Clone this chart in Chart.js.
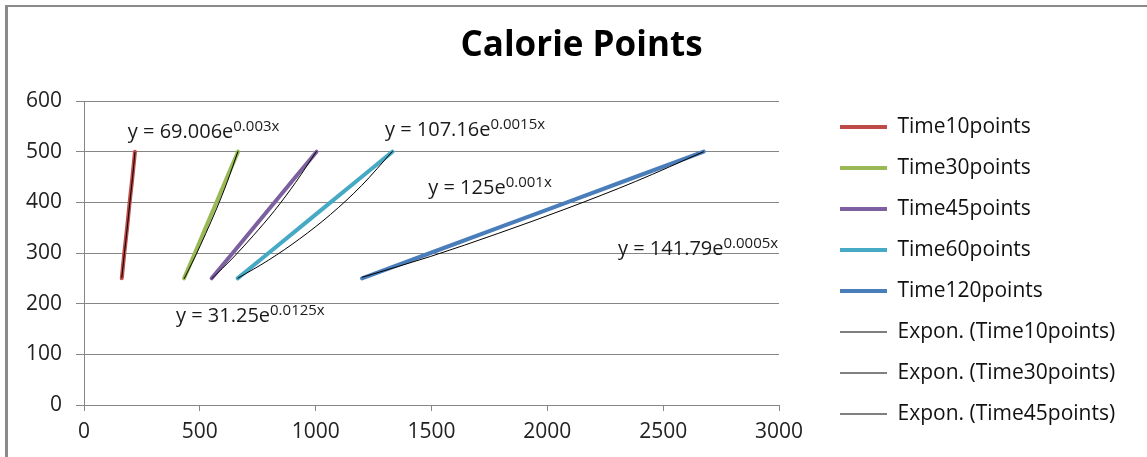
<!DOCTYPE html>
<html>
<head>
<meta charset="utf-8">
<title>Calorie Points</title>
<script src="https://cdn.jsdelivr.net/npm/chart.js@4.4.1/dist/chart.umd.min.js"></script>
<style>
  html, body { margin: 0; padding: 0; background: #fff; }
  #wrap { width: 1147px; height: 457px; }
</style>
</head>
<body>
<div id="wrap"><canvas id="chart" width="1147" height="457"></canvas></div>
<script>
// calories (y) - same steps for every series
const calories = [250, 300, 350, 400, 450, 500];

// points (x)
const time10 = [163, 174, 186, 197, 209, 220];
const time30 = [432, 479, 525, 572, 618, 665];
const time45 = [551, 642, 732, 823, 913, 1004];
const time60 = [663, 797, 931, 1064, 1198, 1332];
const time120 = [1200, 1495, 1790, 2085, 2380, 2675];

// exponential trend lines, y read at the same x as the series
const trend10 = [251, 298, 347, 396, 447, 499];
const trend30 = [249, 292, 338, 387, 440, 501];
const trend45 = [249, 290, 335, 384, 439, 501];
const trend60 = [250, 286, 328, 376, 433, 501];
const trend120 = [252, 293, 339, 388, 441, 500];

const seriesNames = ["Time10points", "Time30points", "Time45points", "Time60points", "Time120points"];
const seriesColors = ["#BE4B48", "#98B954", "#7D60A0", "#46AAC5", "#4A7EBB"];

const xTicks = [0, 500, 1000, 1500, 2000, 2500, 3000];
const yTicks = [0, 100, 200, 300, 400, 500, 600];

// trend line equations (main text + exponent) and where they sit, in data units
const eqMain = ["y = 69.006e", "y = 107.16e", "y = 125e", "y = 141.79e", "y = 31.25e"];
const eqExp = ["0.003x", "0.0015x", "0.001x", "0.0005x", "0.0125x"];
const eqAt = [[189, 527], [1299, 531], [1486, 416], [2305, 296], [397, 164]];

const xs = [time10, time30, time45, time60, time120];
const trends = [trend10, trend30, trend45, trend60, trend120];

const datasets = [];
xs.forEach((arr, i) => {
  datasets.push({
    label: seriesNames[i],
    data: arr.map((x, k) => ({ x: x, y: calories[k] })),
    borderColor: seriesColors[i],
    backgroundColor: seriesColors[i],
    pointBorderColor: seriesColors[i],
    borderWidth: 4,
    pointBorderWidth: 4,
    pointRadius: 0,
    showLine: true,
    borderCapStyle: "round",
    borderJoinStyle: "round"
  });
});
trends.forEach((arr, i) => {
  datasets.push({
    label: "Expon. (" + seriesNames[i] + ")",
    data: xs[i].map((x, k) => ({ x: x, y: arr[k] })),
    borderColor: "#000",
    backgroundColor: "#000",
    pointBorderColor: "#000",
    borderWidth: 1,
    pointBorderWidth: 1,
    pointRadius: 0,
    showLine: true,
    cubicInterpolationMode: "monotone",
    order: -1
  });
});

// legend sizing so it starts where Excel put it
const LEGEND_FONT = 21;
const LEGEND_PAD = 20;
const LEGEND_BOX = 47;
const mctx = document.createElement("canvas").getContext("2d");
mctx.font = LEGEND_FONT + 'px "Open Sans"';
let maxText = 0;
datasets.slice(0, 8).forEach(d => { maxText = Math.max(maxText, mctx.measureText(d.label).width); });
const legendW = LEGEND_PAD + LEGEND_BOX + LEGEND_FONT / 2 + maxText + 10;
const legendLeft = 820;
const padLeft = 20;
const padRight = 4;
// whatever is left right of the legend
const outerGap = Math.max(0, 1147 - padRight - legendLeft - legendW);

const framePlugin = {
  id: "frame",
  beforeDraw(chart) {
    const ctx = chart.ctx;
    ctx.save();
    ctx.fillStyle = "#fff";
    ctx.fillRect(0, 0, chart.width, chart.height);
    ctx.fillStyle = "#8a8a8a";
    ctx.fillRect(5, 5, 3, chart.height);
    ctx.fillRect(5, 5, chart.width, 2);
    ctx.restore();
  }
};

const equationPlugin = {
  id: "equations",
  afterDatasetsDraw(chart) {
    const ctx = chart.ctx;
    const sx = chart.scales.x, sy = chart.scales.y;
    ctx.save();
    ctx.fillStyle = "#1a1a1a";
    ctx.textBaseline = "alphabetic";
    ctx.textAlign = "left";
    eqMain.forEach((t, i) => {
      const px = sx.getPixelForValue(eqAt[i][0]);
      const py = sy.getPixelForValue(eqAt[i][1]);
      ctx.font = '20px "Open Sans"';
      ctx.fillText(t, px, py);
      const w = ctx.measureText(t).width;
      ctx.font = '15px "Open Sans"';
      ctx.fillText(eqExp[i], px + w, py - 7);
    });
    ctx.restore();
  }
};

new Chart(document.getElementById("chart"), {
  type: "scatter",
  data: { datasets: datasets },
  options: {
    responsive: false,
    animation: false,
    layout: { padding: { left: padLeft, right: padRight, top: 0, bottom: 12.5 } },
    scales: {
      x: {
        type: "linear",
        min: 0,
        max: 3000,
        afterBuildTicks: s => { s.ticks = xTicks.map(v => ({ value: v })); },
        afterFit: s => { s.height = 39.5; },
        grid: { drawOnChartArea: false, drawTicks: true, tickLength: 6, color: "#868686" },
        border: { color: "#868686" },
        ticks: { padding: 8, color: "#222", font: { family: "Open Sans", size: 21 }, callback: v => String(v) }
      },
      y: {
        type: "linear",
        min: 0,
        max: 600,
        afterBuildTicks: s => { s.ticks = yTicks.map(v => ({ value: v })); },
        afterFit: s => { s.width = 84 - padLeft; },
        grid: { color: "#868686", tickLength: 8 },
        border: { color: "#868686" },
        ticks: { padding: 14, color: "#222", font: { family: "Open Sans", size: 21 }, callback: v => String(v) }
      },
      // empty space between plot and legend
      gap: {
        type: "linear",
        position: "right",
        display: false,
        afterFit: s => { s.width = legendLeft - 779; }
      },
      // empty space right of the legend
      gapOuter: {
        type: "linear",
        position: "right",
        display: false,
        weight: 2000,
        afterFit: s => { s.width = outerGap; }
      }
    },
    plugins: {
      title: {
        display: true,
        text: "Calorie Points",
        color: "#000",
        font: { family: "Open Sans", size: 35, weight: "bold" },
        padding: { top: 25, bottom: 34 }
      },
      legend: {
        position: "right",
        align: "end",
        maxWidth: 400,
        labels: {
          usePointStyle: true,
          pointStyle: "line",
          pointStyleWidth: LEGEND_BOX,
          boxWidth: LEGEND_BOX,
          padding: LEGEND_PAD,
          color: "#111",
          font: { family: "Open Sans", size: LEGEND_FONT },
          filter: item => item.datasetIndex < 8,
          sort: (a, b) => a.datasetIndex - b.datasetIndex
        }
      },
      tooltip: { enabled: false }
    }
  },
  plugins: [framePlugin, equationPlugin]
});
</script>
</body>
</html>
